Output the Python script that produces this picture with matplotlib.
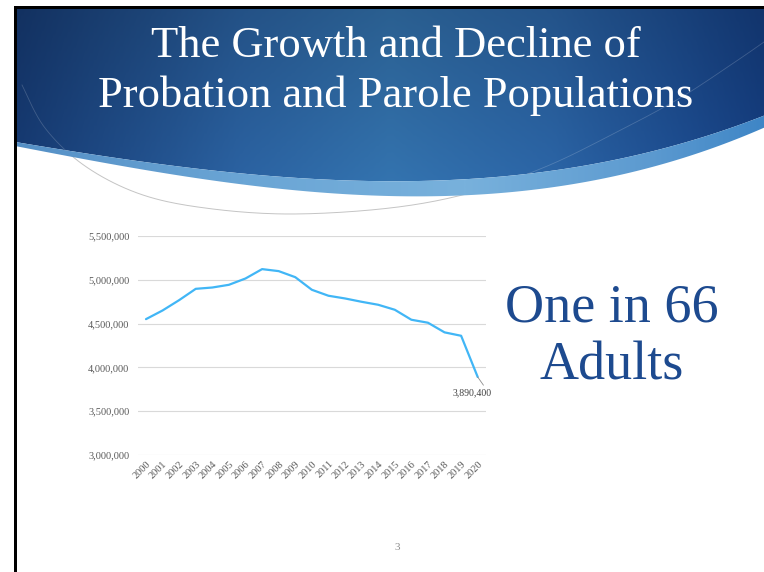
import numpy as np
import matplotlib.pyplot as plt
from matplotlib.patches import Polygon, Rectangle
from matplotlib.colors import LinearSegmentedColormap
from matplotlib.ticker import FuncFormatter, MultipleLocator

# ---------------------------------------------------------------------------
# data
# ---------------------------------------------------------------------------
years = ["2000", "2001", "2002", "2003", "2004", "2005", "2006", "2007",
         "2008", "2009", "2010", "2011", "2012", "2013", "2014", "2015",
         "2016", "2017", "2018", "2019", "2020"]
population = [4551000, 4650000, 4768000, 4897000, 4912000, 4943000,
              5015000, 5122000, 5099000, 5030000, 4886000, 4818000,
              4787000, 4749000, 4715000, 4658000, 4544000, 4510000,
              4400000, 4361000, 3890400]

title_lines = ["The Growth and Decline of", "Probation and Parole Populations"]
callout_lines = ["One in 66", "Adults"]
page_number = "3"

SERIF = "Liberation Serif"
W, H = 764, 572

fig = plt.figure(figsize=(W / 100, H / 100), dpi=100)
fig.patch.set_facecolor("white")

# background layer in pixel coordinates (y down)
bg = fig.add_axes([0, 0, 1, 1])
bg.set_xlim(0, W)
bg.set_ylim(H, 0)
bg.axis("off")

# ---------------------------------------------------------------------------
# blue header band with wavy bottom edge
# ---------------------------------------------------------------------------
x0 = 17
xs = np.linspace(x0, W, 300)
edge_x = [17, 200, 380, 550, 680, 764]
dark_y = [142, 170, 180, 171, 145, 115]
light_y = [146, 180, 194, 188, 160, 127]
dark_bottom = np.polyval(np.polyfit(edge_x, dark_y, 3), xs)
light_bottom = np.polyval(np.polyfit(edge_x, light_y, 3), xs)


def gradient_fill(ax, poly_xy, stops, top, bottom, shade=(0.85, 1.05)):
    cmap = LinearSegmentedColormap.from_list("band", stops)
    cols = cmap(np.linspace(0, 1, 400))[:, :3]
    fade = np.linspace(shade[0], shade[1], 60)[:, None, None]
    img = np.clip(cols[None, :, :] * fade, 0, 1)
    im = ax.imshow(img, extent=[x0, W, bottom, top], aspect="auto",
                   interpolation="bilinear", zorder=1)
    patch = Polygon(poly_xy, closed=True, facecolor="none", edgecolor="none")
    ax.add_patch(patch)
    im.set_clip_path(patch)
    return patch


dark_poly = np.vstack([[[x0, 9], [W, 9]], np.column_stack([xs, dark_bottom])[::-1]])
band_patch = gradient_fill(bg, dark_poly,
                           [(0, "#163a72"), (0.3, "#2a609e"), (0.5, "#3270aa"),
                            (0.72, "#2a62a2"), (0.9, "#1c4b8e"), (1, "#153e80")],
                           9, 200)

light_poly = np.vstack([np.column_stack([xs, dark_bottom]),
                        np.column_stack([xs, light_bottom])[::-1]])
gradient_fill(bg, light_poly,
              [(0, "#5590c6"), (0.3, "#6aa5d5"), (0.6, "#78b1dc"),
               (0.85, "#5c9ad0"), (1, "#3f86c6")],
              100, 200, shade=(1.0, 1.0))


# thin decorative arc, smoothed with a Catmull-Rom spline
def catmull_rom(px, py, n=20):
    p = np.column_stack([px, py]).astype(float)
    p = np.vstack([p[0], p, p[-1]])
    out = []
    t = np.linspace(0, 1, n, endpoint=False)[:, None]
    for i in range(1, len(p) - 2):
        a, b, c, d = p[i - 1], p[i], p[i + 1], p[i + 2]
        out.append(0.5 * (2 * b + (-a + c) * t + (2 * a - 5 * b + 4 * c - d) * t ** 2
                          + (-a + 3 * b - 3 * c + d) * t ** 3))
    out.append(p[-2][None, :])
    return np.vstack(out)


arc = catmull_rom([22, 45, 85, 140, 205, 290, 390, 470, 545, 615, 680, 735, 764],
                  [85, 128, 166, 194, 208, 214, 208, 193, 167, 133, 98, 62, 42])
bg.plot(arc[:, 0], arc[:, 1], color="#c4c4c4", lw=0.7, zorder=0.5)
inner = bg.plot(arc[:, 0], arc[:, 1], color="white", lw=0.6, alpha=0.18, zorder=2)[0]
inner.set_clip_path(band_patch)

# slide border (black left and top edges)
bg.add_patch(Rectangle((14, 6), 3, H, facecolor="black", edgecolor="none", zorder=3))
bg.add_patch(Rectangle((14, 6), W, 3, facecolor="black", edgecolor="none", zorder=3))

# title
for text, base in zip(title_lines, [57, 107]):
    bg.text(396, base, text, ha="center", va="baseline", color="white",
            fontsize=32, family=SERIF, zorder=4)

# callout on the right
for text, base in zip(callout_lines, [322, 380]):
    bg.text(612, base, text, ha="center", va="baseline", color="#1d4a8f",
            fontsize=39, family=SERIF, zorder=4)

bg.text(397, 547, page_number, ha="center", va="center", color="#8c8c8c",
        fontsize=8, family=SERIF)

# ---------------------------------------------------------------------------
# line chart
# ---------------------------------------------------------------------------
left, right, top, bottom = 137.7, 486, 236, 455
ax = fig.add_axes([left / W, 1 - bottom / H, (right - left) / W, (bottom - top) / H])
ax.patch.set_alpha(0)

xpos = np.arange(len(years))
ax.plot(xpos, population, color="#41b6f6", lw=1.6, solid_capstyle="round", zorder=3)

ax.set_xlim(-0.5, len(years) - 0.5)
ax.set_ylim(3000000, 5500000)
ax.yaxis.set_major_locator(MultipleLocator(500000))
ax.yaxis.set_major_formatter(FuncFormatter(lambda v, _: f"{v:,.0f}"))
ax.grid(axis="y", color="#d9d9d9", lw=0.8)
ax.set_axisbelow(True)
for s in ax.spines.values():
    s.set_visible(False)

ax.set_xticks(xpos)
ax.set_xticklabels(years, rotation=45, ha="right", rotation_mode="anchor",
                   family=SERIF, fontsize=7.5, color="#595959")
ax.tick_params(axis="x", length=0, pad=3)
ax.tick_params(axis="y", length=0, pad=6, labelsize=7.5, labelcolor="#595959")
for lab in ax.get_yticklabels():
    lab.set_family(SERIF)

ax.annotate(f"{population[-1]:,.0f}", xy=(xpos[-1], population[-1]),
            xytext=(-6, -11), textcoords="offset pixels",
            ha="center", va="top", fontsize=7, family=SERIF, color="#404040",
            arrowprops=dict(arrowstyle="-", color="#8c8c8c", lw=0.6,
                            relpos=(0.85, 1.0), shrinkA=0, shrinkB=0))

fig.savefig("out.png", dpi=100)
